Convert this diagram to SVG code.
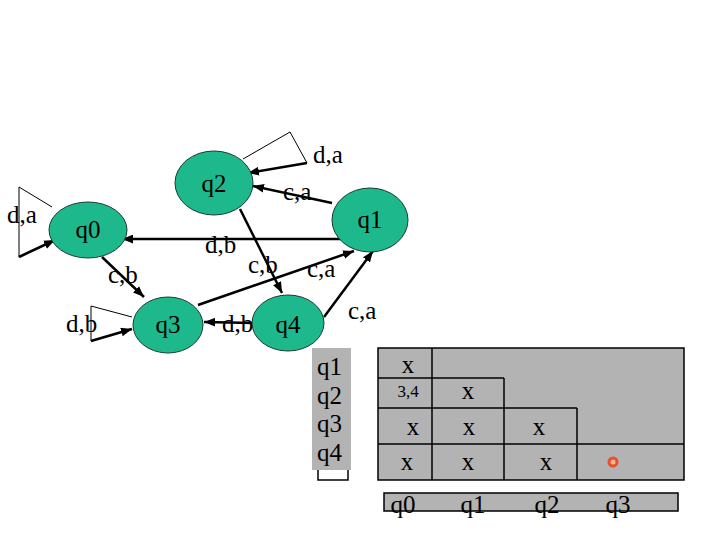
<svg xmlns="http://www.w3.org/2000/svg" width="720" height="540" viewBox="0 0 720 540">
<style>
.node{fill:#1DB98D;stroke:#1a3a30;stroke-width:1}
text{font-family:'Liberation Serif','DejaVu Serif',serif;font-size:25px;fill:#000}
.c{text-anchor:middle}
.e{stroke:#000;stroke-width:2.5;fill:none}
.thin{stroke:#000;stroke-width:1;fill:none}
.cell{stroke:#000;stroke-width:1.5;fill:none}
.gray{fill:#B3B3B3}
</style>
<defs>
<marker id="ah" viewBox="0 0 10 8" refX="10" refY="4" markerWidth="11" markerHeight="9" markerUnits="userSpaceOnUse" orient="auto">
<path d="M0,0 L10,4 L0,8 z" fill="#000"/>
</marker>
</defs>
<rect width="720" height="540" fill="#fff"/>
<g id="connectors">
<polyline class="thin" points="52,207 19,187 19,257"/>
<line class="e" x1="19" y1="257" x2="55" y2="240" marker-end="url(#ah)"/>
<polyline class="thin" points="132,317 91,306 91,341"/>
<line class="e" x1="91" y1="341" x2="132" y2="329" marker-end="url(#ah)"/>
<polyline class="thin" points="243,159 290,132 307,163"/>
<line class="e" x1="307" y1="163" x2="248" y2="173" marker-end="url(#ah)"/>
<line class="e" x1="332" y1="203" x2="253" y2="186" marker-end="url(#ah)"/>
<line class="e" x1="343" y1="239" x2="122" y2="239" marker-end="url(#ah)"/>
<line class="e" x1="240" y1="209" x2="282" y2="293" marker-end="url(#ah)"/>
<line class="e" x1="198" y1="305" x2="354" y2="251" marker-end="url(#ah)"/>
<line class="e" x1="324" y1="317" x2="373" y2="251" marker-end="url(#ah)"/>
<line class="e" x1="253" y1="323" x2="204" y2="322" marker-end="url(#ah)"/>
<line class="e" x1="102" y1="257" x2="144" y2="297" marker-end="url(#ah)"/>
</g>
<g id="edge-labels">
<text x="7" y="223">d,a</text>
<text x="66" y="332">d,b</text>
<text x="313" y="163">d,a</text>
<text x="283" y="200">c,a</text>
<text x="205" y="253">d,b</text>
<text x="248" y="273">c,b</text>
<text x="307" y="277">c,a</text>
<text x="348" y="319">c,a</text>
<text x="222" y="332">d,b</text>
<text x="108" y="283">c,b</text>
</g>
<g id="q0"><ellipse class="node" cx="88" cy="230" rx="39" ry="28"/><text class="c" x="88" y="238">q0</text></g>
<g id="q1"><ellipse class="node" cx="370" cy="220" rx="38" ry="32"/><text class="c" x="370" y="228">q1</text></g>
<g id="q2"><ellipse class="node" cx="214" cy="183" rx="39" ry="32"/><text class="c" x="214" y="192">q2</text></g>
<g id="q3"><ellipse class="node" cx="168" cy="325" rx="35" ry="28"/><text class="c" x="168" y="333">q3</text></g>
<g id="q4"><ellipse class="node" cx="288" cy="323" rx="36" ry="28"/><text class="c" x="288" y="333">q4</text></g>
<g id="row-labels">
<rect class="cell" x="318" y="460" width="30" height="20"/>
<rect class="gray" x="312" y="348" width="39" height="122"/>
<text x="317" y="375">q1</text>
<text x="317" y="404">q2</text>
<text x="317" y="432">q3</text>
<text x="317" y="461">q4</text>
</g>
<g id="table">
<rect class="cell" x="378" y="348" width="306" height="132" style="fill:#B3B3B3"/>
<line class="cell" x1="432" y1="348" x2="432" y2="480"/>
<line class="cell" x1="378" y1="378" x2="504" y2="378"/>
<line class="cell" x1="504" y1="378" x2="504" y2="480"/>
<line class="cell" x1="378" y1="408" x2="577" y2="408"/>
<line class="cell" x1="577" y1="408" x2="577" y2="480"/>
<line class="cell" x1="378" y1="444" x2="684" y2="444"/>
<text class="c" x="408" y="373">x</text>
<text class="c" x="408" y="397" style="font-size:17px">3,4</text>
<text class="c" x="468" y="399">x</text>
<text class="c" x="413" y="435">x</text>
<text class="c" x="469" y="435">x</text>
<text class="c" x="539" y="435">x</text>
<text class="c" x="407" y="470">x</text>
<text class="c" x="468" y="470">x</text>
<text class="c" x="546" y="470">x</text>
<circle cx="613" cy="462" r="4" fill="#F2B7A2" stroke="#E8502A" stroke-width="3"/>
</g>
<g id="col-labels">
<rect class="cell" x="384" y="493" width="294" height="18" style="fill:#B3B3B3"/>
<text class="c" x="403" y="513">q0</text>
<text class="c" x="473" y="513">q1</text>
<text class="c" x="547" y="513">q2</text>
<text class="c" x="618" y="513">q3</text>
</g>
</svg>
